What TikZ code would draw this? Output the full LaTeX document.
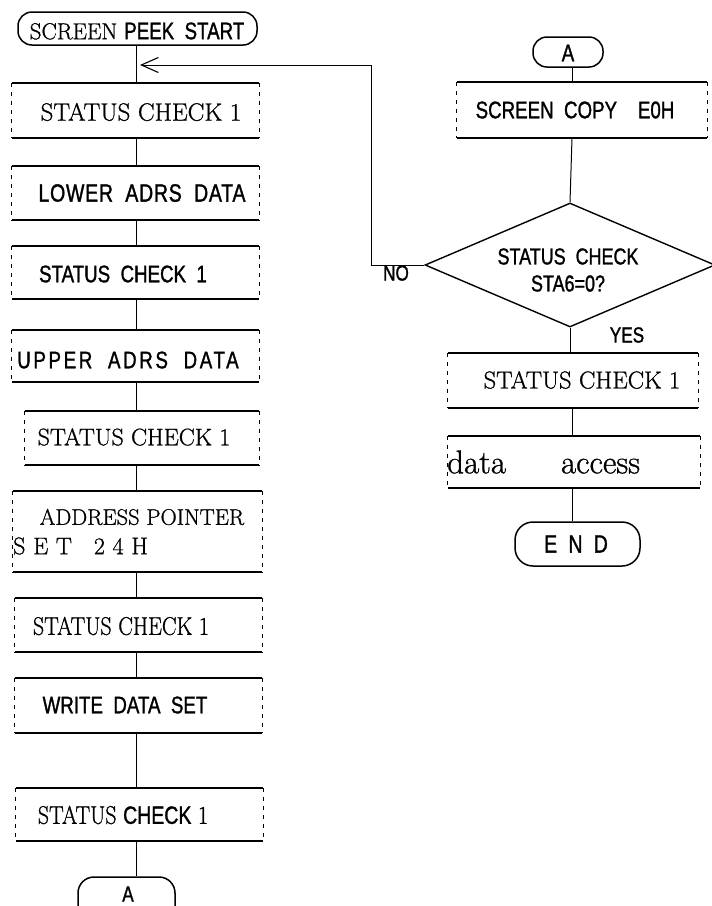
\documentclass[tikz,border=0pt]{standalone}
\usepackage{fontspec}
\usetikzlibrary{fit,arrows.meta,shapes.geometric}
\setmainfont[FakeBold=0.9]{Latin Modern Roman}
\newfontfamily\cond[FakeStretch=0.78,WordSpace=2,FakeBold=1.2]{Liberation Sans}
\newfontfamily\condserif[FakeStretch=0.86,FakeBold=0.9]{Latin Modern Roman}
\tikzset{
  hline/.style={line width=1.9pt},
  vline/.style={line width=0.8pt, dash pattern=on 4pt off 5pt},
  link/.style={line width=1pt},
  term/.style={draw, line width=1.5pt, rounded corners=14pt, inner sep=0pt},
  serif/.style={inner sep=0pt, font=\fontsize{25}{27}\selectfont},
  sans/.style={inner sep=0pt, font=\cond\fontsize{24}{26}\selectfont},
  sserif/.style={inner sep=0pt, font=\condserif\fontsize{24}{26}\selectfont},
}
% process box: solid top and bottom rules, light broken sides
\newcommand\flowbox[5]{%
  \node[inner sep=0pt, fit={(#2,#3) (#4,#5)}] (#1) {};
  \draw[hline] (#1.north west) -- (#1.north east) (#1.south west) -- (#1.south east);
  \draw[vline] (#1.north west) -- (#1.south west) (#1.north east) -- (#1.south east);}
\begin{document}
\begin{tikzpicture}[x=1pt,y=-1pt]
\useasboundingbox (0,0) rectangle (712,906);
\clip (0,0) rectangle (712,906);
\coordinate (lx) at (136,0);
\coordinate (rx) at (572,0);

% ---- left column ----
\node[term, fit={(18,12) (257,45)}] (start) {};
\node[inner sep=0pt] (startt) at (137,31)
  {\fontsize{23}{25}\selectfont SCREEN\ {\cond\fontsize{24}{26}\selectfont PEEK START}};

\flowbox{b1}{12}{83}{259}{138}
\node[serif] (b1t) at (141,112) {STATUS CHECK 1};
\flowbox{b2}{12}{166}{259}{220}
\node[sans, font=\cond\fontsize{25}{27}\selectfont] (b2t) at (142,193)
  {\addfontfeatures{LetterSpace=3}LOWER ADRS DATA};
\flowbox{b3}{12}{246}{259}{299}
\node[sans] (b3t) at (123,274) {STATUS CHECK 1};
\flowbox{b4}{12}{330}{259}{382}
\node[sans] (b4t) at (128,360) {\addfontfeatures{LetterSpace=11}UPPER ADRS DATA};
\flowbox{b5}{25}{411}{259}{465}
\node[serif, font=\fontsize{24}{26}\selectfont] (b5t) at (134,437) {STATUS CHECK 1};
\flowbox{b6}{13}{491}{262}{572}
\node[serif, font=\fontsize{22.5}{24}\selectfont] (b6t) at (142,517) {ADDRESS POINTER};
\node[serif, anchor=west, font=\fontsize{24}{26}\selectfont] (b6u) at (13,546)
  {\addfontfeatures{LetterSpace=32}SET\hspace{22pt}24H};
\flowbox{b7}{15}{598}{262}{652}
\node[sserif, font=\condserif\fontsize{25.5}{27}\selectfont] (b7t) at (121,626) {STATUS CHECK 1};
\flowbox{b8}{15}{678}{262}{733}
\node[sans] (b8t) at (125,705) {WRITE DATA SET};
\flowbox{b9}{16}{788}{263}{841}
\node[sserif, font=\condserif\fontsize{25.5}{27}\selectfont] (b9t) at (123,815)
  {STATUS {\cond\fontsize{25}{27}\selectfont CHECK} 1};
\node[term, rounded corners=16pt, fit={(78,877) (175,930)}] (la) {};
\node[inner sep=0pt, font=\cond\fontsize{22}{24}\selectfont] (lat) at (128,894) {A};

\draw[link] (start.south -| lx) -- (b1.north -| lx);
\draw[link] (b1.south -| lx) -- (b2.north -| lx);
\draw[link] (b2.south -| lx) -- (b3.north -| lx);
\draw[link] (b3.south -| lx) -- (b4.north -| lx);
\draw[link] (b4.south -| lx) -- (b5.north -| lx);
\draw[link] (b5.south -| lx) -- (b6.north -| lx);
\draw[link] (b6.south -| lx) -- (b7.north -| lx);
\draw[link] (b7.south -| lx) -- (b8.north -| lx);
\draw[link] (b8.south -| lx) -- (b9.north -| lx);
\draw[link] (b9.south -| lx) -- (la.north -| lx);

% ---- right column ----
\node[term, fit={(533,37) (603,67)}] (ra) {};
\node[inner sep=0pt, font=\cond\fontsize{24}{26}\selectfont] (rat) at (568,53) {A};
\flowbox{r1}{457}{82}{707}{138}
\node[sans] (r1t) at (575,110) {SCREEN COPY\ \ E0H};

\node[draw, diamond, line width=1.4pt, inner sep=0pt, aspect=2.34,
      minimum width=290pt, minimum height=124pt] (d) at (570,265) {};
\node[sans, align=center, font=\cond\fontsize{23}{27}\selectfont] (dt) at (568,270)
  {STATUS CHECK\\STA6=0?};
\node[sans, font=\cond\fontsize{22}{24}\selectfont] (no) at (396,273) {NO};
\node[sans, font=\cond\fontsize{22}{24}\selectfont] (yes) at (627,335) {YES};

\flowbox{r2}{448}{353}{698}{408}
\node[serif, font=\fontsize{24.5}{26}\selectfont] (r2t) at (582,380) {STATUS CHECK 1};
\flowbox{r3}{448}{436}{700}{488}
\node[inner sep=0pt, anchor=west, font=\fontsize{33}{35}\selectfont] (r3t) at (447,462)
  {data\hspace{55pt}access};
\node[term, rounded corners=18pt, fit={(515,522) (640,566)}] (fin) {};
\node[inner sep=0pt, font=\cond\fontsize{25}{27}\selectfont] (fint) at (576,544)
  {\addfontfeatures{LetterSpace=45}END};

\draw[link] (ra.south -| rx) -- (r1.north -| rx);
\draw[link] (r1.south -| rx) -- (d.north);
\draw[link] (d.south) -- (r2.north -| d.south);
\draw[link] (r2.south -| rx) -- (r3.north -| rx);
\draw[link] (r3.south -| rx) -- (fin.north -| rx);

% ---- NO branch back to the top of the left column ----
\coordinate (turn) at (371,65);
\coordinate (entry) at (140,65);
\draw[link, -{Straight Barb[length=17pt,width=15pt,line width=1.1pt]}]
  (d.west) -- (d.west -| turn) -- (turn) -- (entry);
\end{tikzpicture}
\end{document}
